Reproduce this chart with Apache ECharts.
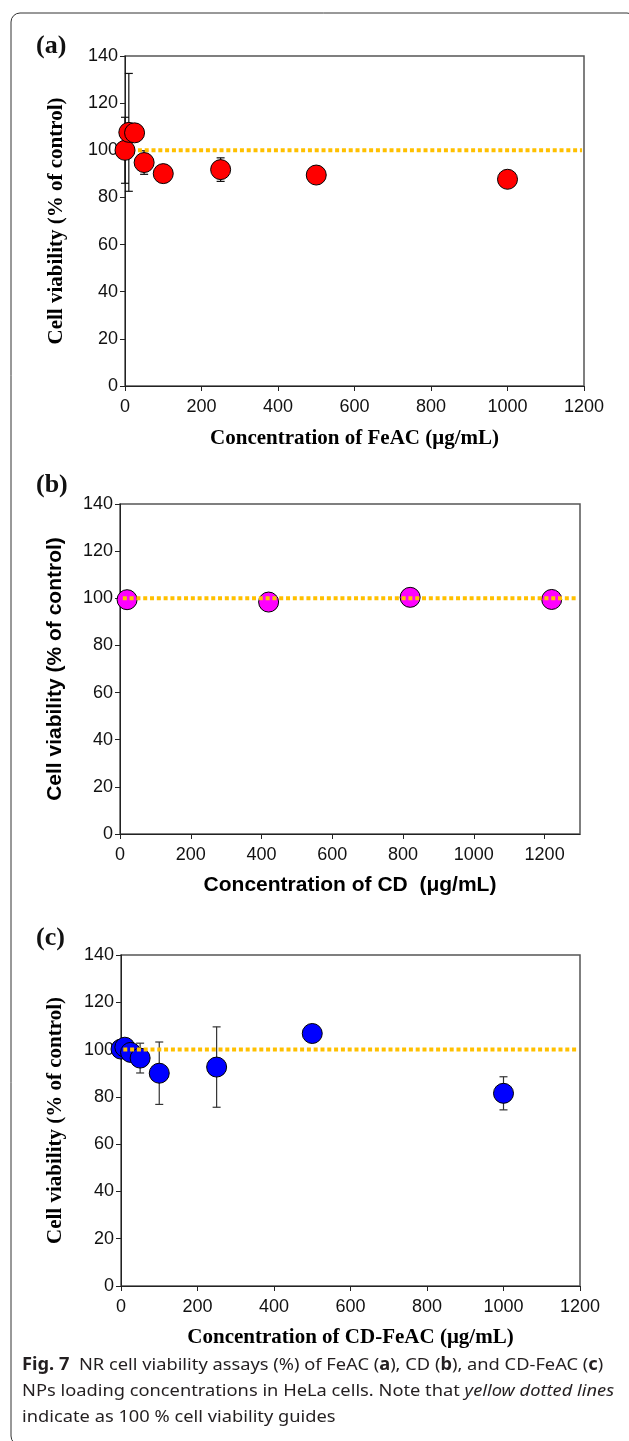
<!DOCTYPE html>
<html>
<head>
<meta charset="utf-8">
<script src="https://cdn.jsdelivr.net/npm/echarts@6/dist/echarts.min.js"></script>
<style>
html, body { margin: 0; padding: 0; background: #fff; }
#chart { width: 629px; height: 1441px; }
</style>
</head>
<body>
<div id="chart"></div>
<script>
// 패널 (a) FeAC
const concA = [0, 10, 25, 50, 100, 250, 500, 1000];
const viabA = [100, 107.6, 107.4, 94.8, 90.1, 91.8, 89.5, 87.7];
const errA = [14, 25, 0, 5, 0, 5, 0, 0];
const guideA = [16, 1195];

// 패널 (b) CD
const concB = [20, 420, 820, 1220];
const viabB = [99.4, 98.4, 100.4, 99.5];
const guideB = [8, 1290];
const xTicksB = [0, 200, 400, 600, 800, 1000, 1200];

// 패널 (c) CD-FeAC
const concC = [0, 10, 25, 50, 100, 250, 500, 1000];
const viabC = [100.2, 101, 98.8, 96.4, 90, 92.6, 106.8, 81.5];
const errC = [0, 0, 0, 6.3, 13.2, 17, 0, 7];
const guideC = [6, 1195];

const guideLevel = 100;

const chart = echarts.init(document.getElementById('chart'));

const SERIF = '"Liberation Serif", "Times New Roman", serif';
const SANS = '"Liberation Sans", Arial, sans-serif';
const CAPTION = '"Noto Sans", sans-serif';

function pairs(xs, ys) {
    return xs.map((x, i) => [x, ys[i]]);
}

// 오차 막대 (custom series)
function errorSeries(idx, xs, ys, errs, color) {
    const data = [];
    xs.forEach((x, i) => {
        if (errs[i] > 0) data.push([x, ys[i] - errs[i], ys[i] + errs[i]]);
    });
    return {
        type: 'custom',
        xAxisIndex: idx,
        yAxisIndex: idx,
        z: 1,
        clip: false,
        silent: true,
        encode: { x: 0, y: [1, 2] },
        data: data,
        renderItem: function (params, api) {
            const x = api.value(0);
            const lo = api.coord([x, api.value(1)]);
            const hi = api.coord([x, api.value(2)]);
            const hw = 4;
            const style = { stroke: color, lineWidth: 1.2 };
            return {
                type: 'group',
                children: [
                    { type: 'line', shape: { x1: lo[0], y1: lo[1], x2: hi[0], y2: hi[1] }, style: style },
                    { type: 'line', shape: { x1: lo[0] - hw, y1: lo[1], x2: lo[0] + hw, y2: lo[1] }, style: style },
                    { type: 'line', shape: { x1: hi[0] - hw, y1: hi[1], x2: hi[0] + hw, y2: hi[1] }, style: style }
                ]
            };
        }
    };
}

function scatterSeries(idx, xs, ys, color) {
    return {
        type: 'scatter',
        xAxisIndex: idx,
        yAxisIndex: idx,
        z: 3,
        clip: false,
        symbolSize: 20,
        itemStyle: { color: color, opacity: 1, borderColor: '#000', borderWidth: 1 },
        data: pairs(xs, ys)
    };
}

// 100% 기준 점선
function guideSeries(idx, range, z) {
    return {
        type: 'line',
        xAxisIndex: idx,
        yAxisIndex: idx,
        z: z,
        silent: true,
        symbol: 'none',
        lineStyle: { color: '#FFC000', width: 4, type: [4, 2.8] },
        data: [[range[0], guideLevel], [range[1], guideLevel]]
    };
}

function plainNumber(v) {
    return String(v);
}

function xAxisCfg(idx, max, name, font, gap, extra) {
    const cfg = {
        type: 'value',
        gridIndex: idx,
        min: 0,
        max: max,
        interval: 200,
        name: name,
        nameLocation: 'middle',
        nameGap: gap,
        nameTextStyle: { fontFamily: font, fontWeight: 'bold', fontSize: 21, color: '#000' },
        axisLine: { show: true, onZero: false, lineStyle: { color: '#222', width: 1 } },
        axisTick: { show: true, inside: false, length: 5, lineStyle: { color: '#222' } },
        axisLabel: { margin: 12, fontFamily: SANS, fontSize: 18, color: '#111', formatter: plainNumber },
        splitLine: { show: false }
    };
    if (extra) {
        cfg.axisLabel.customValues = extra;
        cfg.axisTick.customValues = extra;
    }
    return cfg;
}

function yAxisCfg(idx, font, gap) {
    return {
        type: 'value',
        gridIndex: idx,
        min: 0,
        max: 140,
        interval: 20,
        name: 'Cell viability (% of control)',
        nameLocation: 'middle',
        nameGap: gap,
        nameTextStyle: { fontFamily: font, fontWeight: 'bold', fontSize: 21, color: '#000' },
        axisLine: { show: true, onZero: false, lineStyle: { color: '#222', width: 1 } },
        axisTick: { show: true, inside: false, length: 5, lineStyle: { color: '#222' } },
        axisLabel: { margin: 7, fontFamily: SANS, fontSize: 18, color: '#111', formatter: plainNumber },
        splitLine: { show: false }
    };
}

const gridStyle = { show: true, borderColor: '#555', borderWidth: 1.5, backgroundColor: 'transparent' };

const option = {
    animation: false,
    backgroundColor: '#fff',
    grid: [
        Object.assign({ left: 125, top: 56, width: 459, height: 330 }, gridStyle),
        Object.assign({ left: 120, top: 504, width: 460, height: 330 }, gridStyle),
        Object.assign({ left: 121, top: 955, width: 459, height: 331 }, gridStyle)
    ],
    xAxis: [
        xAxisCfg(0, 1200, 'Concentration of FeAC (μg/mL)', SERIF, 42),
        xAxisCfg(1, 1300, 'Concentration of CD  (μg/mL)', SANS, 41, xTicksB),
        xAxisCfg(2, 1200, 'Concentration of CD-FeAC (μg/mL)', SERIF, 41)
    ],
    yAxis: [
        yAxisCfg(0, SERIF, 58),
        yAxisCfg(1, SANS, 54),
        yAxisCfg(2, SERIF, 55)
    ],
    series: [
        errorSeries(0, concA, viabA, errA, '#111'),
        guideSeries(0, guideA, 2),
        scatterSeries(0, concA, viabA, '#FF0000'),

        scatterSeries(1, concB, viabB, '#FF00FF'),
        guideSeries(1, guideB, 4),

        errorSeries(2, concC, viabC, errC, '#333'),
        scatterSeries(2, concC, viabC, '#0000FF'),
        guideSeries(2, guideC, 4)
    ],
    graphic: [
        {
            type: 'rect',
            shape: { x: 11, y: 13, width: 625, height: 1432, r: 9 },
            style: { fill: 'none', stroke: '#333', lineWidth: 1 },
            silent: true
        },
        { type: 'text', left: 36, top: 33, style: { text: '(a)', font: 'bold 26px ' + SERIF, fill: '#111' } },
        { type: 'text', left: 36, top: 472, style: { text: '(b)', font: 'bold 26px ' + SERIF, fill: '#111' } },
        { type: 'text', left: 36, top: 925, style: { text: '(c)', font: 'bold 26px ' + SERIF, fill: '#111' } },
        {
            type: 'text',
            x: 22,
            y: 1352,
            scaleX: 1.075,
            style: {
                text: '{b|Fig. 7}  {n|NR cell viability assays (%) of FeAC (}{b|a}{n|), CD (}{b|b}{n|), and CD-FeAC (}{b|c}{n|)}\n' +
                      '{n|NPs loading concentrations in HeLa cells. Note that }{i|yellow dotted lines}\n' +
                      '{n|indicate as 100 % cell viability guides}',
                verticalAlign: 'top',
                align: 'left',
                fill: '#231f20',
                font: '17px ' + CAPTION,
                lineHeight: 26,
                rich: {
                    n: { fontFamily: CAPTION, fontSize: 17, lineHeight: 26, fill: '#231f20' },
                    b: { fontFamily: CAPTION, fontSize: 17, fontWeight: 'bold', lineHeight: 26, fill: '#231f20' },
                    i: { fontFamily: CAPTION, fontSize: 17, fontStyle: 'italic', lineHeight: 26, fill: '#231f20' }
                }
            }
        }
    ]
};

chart.setOption(option);
</script>
</body>
</html>
